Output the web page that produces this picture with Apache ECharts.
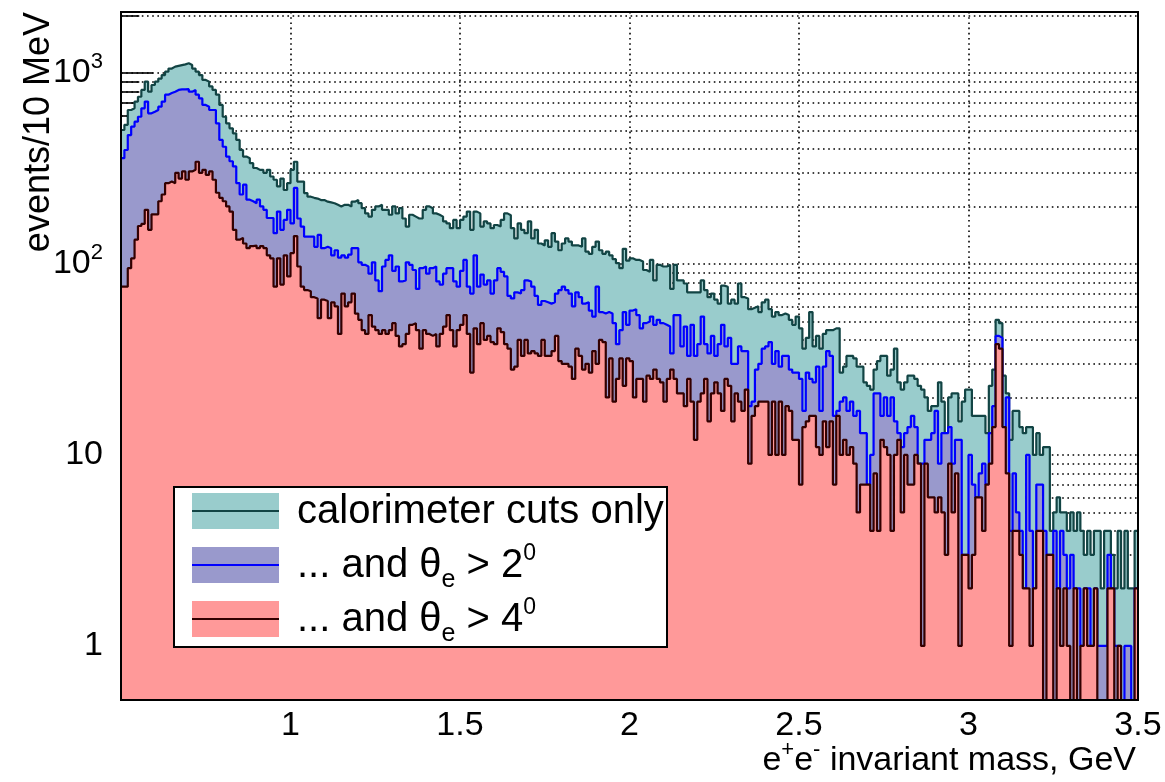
<!DOCTYPE html>
<html>
<head>
<meta charset="utf-8">
<script src="https://cdn.jsdelivr.net/npm/echarts@6/dist/echarts.min.js"></script>
<style>
html,body{margin:0;padding:0;background:#fff;}
#chart{width:1165px;height:782px;}
</style>
</head>
<body>
<div id="chart"></div>
<script>
// ---- histogram binning: 10 MeV bins from 0.5 to 3.5 GeV ----
const binLow = 0.5;
const binWidth = 0.01;

// ---- counts per bin (events / 10 MeV) ----
const calorimeterOnly = [
  503,535,640,653,708,751,815,901,798,865,
  901,935,975,1016,1055,1080,1090,1100,1110,1124,
  1100,1055,1016,975,920,901,850,815,770,680,
  590,545,513,483,446,395,365,358,337,318,
  311,311,300,311,287,276,255,280,244,265,
  311,343,270,270,235,225,222,220,216,216,
  212,210,208,204,200,204,204,200,212,216,
  208,196,184,177,192,200,204,192,192,181,
  200,184,196,173,157,181,177,173,173,192,
  200,196,184,181,177,167,163,154,170,154,
  170,177,188,151,188,184,157,167,163,154,
  160,157,170,184,180,154,136,163,151,145,
  167,136,151,128,125,133,123,145,131,118,
  128,136,131,125,125,123,136,116,113,123,
  131,118,113,116,111,106,101,95,120,104,
  107,105,105,103,93,91,105,82,99,97,
  97,99,74,99,82,82,79,71,71,71,
  71,82,73,67,70,65,62,77,76,62,
  65,62,79,67,66,58,59,60,56,63,
  65,58,53,56,54,55,54,51,48,53,
  46,36,41,56,37,42,36,43,45,45,
  46,46,27,29,33,33,32,29,29,24,
  23,22,28,31,33,33,26,28,36,24,
  22,24,26,26,25,23,22,20,17,18,
  18,24,19,13,20,21,21,15,19,22,
  22,16,16,16,16,13,23,28,51,49,
  26,21,12,17,17,14,13,14,14,10,
  13,10,11,11,4,5,6,5,5,4,
  5,4,5,4,3,4,3,4,4,2,
  4,4,3,2,4,2,4,2,2,4
];
const thetaGt2 = [
  358,395,473,524,556,590,653,708,615,627,
  640,666,708,770,785,798,815,820,820,823,
  798,815,770,736,680,666,640,640,545,446,
  411,365,345,324,265,231,260,217,213,208,
  217,200,192,174,174,145,188,151,170,192,
  163,250,173,157,139,139,139,123,142,121,
  123,121,111,118,108,111,108,112,121,121,
  102,99,97,89,102,82,72,97,105,111,
  92,97,81,82,102,99,93,74,95,97,
  89,95,97,81,78,89,95,95,81,76,
  92,105,76,70,111,76,88,78,82,70,
  82,95,91,86,68,66,71,70,73,82,
  81,76,68,61,64,63,62,63,70,73,
  76,73,70,60,71,67,62,63,57,53,
  76,56,55,56,55,49,38,45,56,48,
  57,58,54,46,49,50,53,48,51,49,
  48,47,34,54,54,37,47,33,48,33,
  38,53,38,34,42,33,38,48,37,41,
  30,30,37,35,35,18,19,28,30,36,
  37,39,30,35,29,33,33,28,27,27,
  25,17,27,25,24,29,17,29,35,33,
  16,17,19,20,17,19,16,17,13,13,
  7,10,21,21,16,20,16,20,15,13,
  11,13,14,16,14,9,9,12,12,13,
  17,9,13,13,14,9,12,12,3,3,
  10,7,6,8,9,7,13,18,42,41,
  14,20,4,8,5,4,2,10,4,2,
  7,7,4,3,3,4,2,4,3,2,
  3,2,2,1,2,2,1,2,1,1,
  1,3,2,1,1,0,1,1,0,2
];
const thetaGt4 = [
  76,76,95,107,134,158,162,192,151,182,
  182,213,231,265,270,265,300,280,305,276,
  305,311,343,300,311,293,305,276,236,222,
  213,200,188,151,134,137,128,121,124,125,
  121,124,121,111,107,76,107,78,111,86,
  114,140,97,76,73,72,67,66,52,65,
  64,52,63,60,43,70,60,63,70,55,
  51,45,43,54,47,45,43,45,43,45,
  49,42,37,38,43,48,49,45,36,45,
  43,42,43,37,43,47,54,45,37,45,
  48,54,43,27,46,38,49,40,42,39,
  38,46,44,38,36,28,29,40,33,40,
  34,35,34,33,40,33,33,35,42,31,
  30,30,29,25,36,33,28,30,27,35,
  30,40,39,20,32,19,25,32,23,32,
  31,20,25,25,19,26,25,28,25,24,
  19,25,28,25,21,21,18,25,19,12,
  19,21,25,15,21,24,21,17,25,23,
  15,21,19,17,22,9,16,18,19,19,
  19,10,19,10,19,10,18,17,12,12,
  7,14,15,16,16,11,10,15,11,15,
  7,16,10,12,10,11,9,5,7,7,
  7,4,8,4,12,11,10,4,10,12,
  5,10,7,7,10,9,1,9,6,6,
  5,6,5,3,9,5,8,1,3,3,
  2,3,6,6,4,7,9,14,38,36,
  14,8,1,4,4,3,2,2,1,2,
  4,4,0,3,3,0,2,1,2,1,
  0,2,0,1,2,1,1,2,0,0,
  0,2,2,0,1,0,0,0,0,2
];

const seriesNames = ['calorimeter cuts only', '... and \u03b8e > 2\u00b0', '... and \u03b8e > 4\u00b0'];
const xTickLabels = ['1', '1.5', '2', '2.5', '3', '3.5'];
const yMajorTicks = [1, 10, 100, 1000];

// ---- styling ----
const FONT = 'Liberation Sans';
const fills = ['#99cccc', '#9999cc', '#ff9999'];
const lines = ['#124444', '#0000ff', '#330000'];
const Y_MIN = 0.521, Y_MAX = 2086;
const ZERO_FLOOR = 0.2;           // empty bins are drawn below the axis floor
const MINOR_TICK_GEV = 0.054;     // inner minor tick length in x units

function toSteps(counts) {
  const pts = counts.map((c, i) => [+(binLow + i * binWidth).toFixed(4), c > 0 ? c : ZERO_FLOOR]);
  pts.push([+(binLow + counts.length * binWidth).toFixed(4), pts[pts.length - 1][1]]);
  return pts;
}

// dotted grid at each decade subdivision + short inner minor ticks
const gridVals = [];
for (let e = -1; e <= 3; e++) {
  for (let m = 1; m <= 9; m++) {
    const v = +(m * Math.pow(10, e)).toPrecision(3);
    if (v > Y_MIN && v < Y_MAX) gridVals.push(v);
  }
}
const dotted = { color: '#000', width: 1.6, type: [1.6, 3.6] };
const gridMarks = gridVals.map(v => ({ yAxis: v, lineStyle: dotted }));
const minorTickMarks = gridVals.filter(v => yMajorTicks.indexOf(v) < 0).map(v => [
  { coord: [binLow, v], lineStyle: { color: '#000', width: 1.6, type: 'solid' } },
  { coord: [binLow + MINOR_TICK_GEV, v] }
]);

function yLabel(v) {
  const lg = Math.log10(v);
  const e = Math.round(lg);
  if (Math.abs(lg - e) > 1e-6) return '';
  if (e === 0) return '1';
  if (e === 1) return '10';
  return '10{sup|' + e + '}';
}

const datasets = [calorimeterOnly, thetaGt2, thetaGt4];
const series = datasets.map((d, k) => ({
  name: seriesNames[k],
  type: 'line',
  step: 'end',
  data: toSteps(d),
  symbol: 'none',
  showSymbol: false,
  clip: true,
  z: 2 + k,
  lineStyle: { color: lines[k], width: 2.2 },
  itemStyle: { color: fills[k] },
  areaStyle: { color: fills[k], opacity: 1, origin: 'start' },
  emphasis: { disabled: true },
  silent: true
}));
series[0].markLine = {
  z: 1,
  silent: true,
  symbol: ['none', 'none'],
  label: { show: false },
  emphasis: { disabled: true },
  animation: false,
  lineStyle: dotted,
  data: gridMarks.concat(minorTickMarks)
};

// legend rows (ROOT-like box)
const legendRows = [
  { y: 511, text: 'calorimeter cuts only' },
  { y: 565, text: '... and \u03b8{sub|e} > 2{sup|0}' },
  { y: 619, text: '... and \u03b8{sub|e} > 4{sup|0}' }
];
const richLegend = {
  sub: { fontSize: 25, fontFamily: FONT, fill: '#000', padding: [28, 0, 0, 0], verticalAlign: 'middle' },
  sup: { fontSize: 23, fontFamily: FONT, fill: '#000', padding: [0, 0, 25, 0], verticalAlign: 'middle' }
};
const graphics = [
  { type: 'rect', z: 100, silent: true, shape: { x: 121, y: 12, width: 1017, height: 688 },
    style: { fill: 'none', stroke: '#000', lineWidth: 2 } },
  { type: 'rect', z: 101, silent: true, shape: { x: 174, y: 487, width: 493, height: 160 },
    style: { fill: '#fff', stroke: '#000', lineWidth: 2 } },
  { type: 'text', z: 102, silent: true, x: 39, y: 12, rotation: Math.PI / 2,
    style: { text: 'events/10 MeV', fontSize: 36, fontFamily: FONT, fill: '#000', align: 'right', verticalAlign: 'middle' } },
  { type: 'text', z: 102, silent: true, x: 1136, y: 761,
    style: { text: 'e{sup|+}e{sup|-} invariant mass, GeV', fontSize: 34, fontFamily: FONT, fill: '#000',
      align: 'right', verticalAlign: 'middle',
      rich: { sup: { fontSize: 22, fontFamily: FONT, fill: '#000', padding: [0, 0, 22, 0], verticalAlign: 'middle' } } } }
];
legendRows.forEach((r, k) => {
  graphics.push({ type: 'rect', z: 102, silent: true, shape: { x: 192, y: r.y - 18, width: 87, height: 36 },
    style: { fill: fills[k] } });
  graphics.push({ type: 'line', z: 103, silent: true, shape: { x1: 192, y1: r.y, x2: 279, y2: r.y },
    style: { stroke: lines[k], lineWidth: 2 } });
  graphics.push({ type: 'text', z: 103, silent: true, x: 297, y: r.y + 1,
    style: { text: r.text, fontSize: 40, fontFamily: FONT, fill: '#000', align: 'left', verticalAlign: 'middle', rich: richLegend } });
});

const chart = echarts.init(document.getElementById('chart'), null, { renderer: 'canvas' });
chart.setOption({
  animation: false,
  backgroundColor: '#fff',
  grid: { left: 121, right: 27, top: 12, bottom: 82, show: false },
  xAxis: {
    type: 'value', min: 0.5, max: 3.5, interval: 0.5,
    axisLine: { show: false },
    axisTick: { show: false },
    axisLabel: {
      fontSize: 34, fontFamily: FONT, color: '#000', margin: 9,
      formatter: v => { const i = Math.round((v - 1) / 0.5); return (i >= 0 && i < xTickLabels.length) ? xTickLabels[i] : ''; }
    },
    splitLine: { show: true, lineStyle: dotted }
  },
  yAxis: {
    type: 'log', logBase: 10, min: Y_MIN, max: Y_MAX,
    axisLine: { show: false },
    axisTick: { show: true, inside: true, length: 32, lineStyle: { color: '#000', width: 1.6 } },
    axisLabel: {
      fontSize: 34, fontFamily: FONT, color: '#000', margin: 18,
      showMinLabel: false, showMaxLabel: false,
      formatter: yLabel,
      rich: { sup: { fontSize: 22, fontFamily: FONT, color: '#000', padding: [0, 0, 22, 0], verticalAlign: 'middle' } }
    },
    splitLine: { show: false }
  },
  series: series,
  graphic: graphics
});
</script>
</body>
</html>
